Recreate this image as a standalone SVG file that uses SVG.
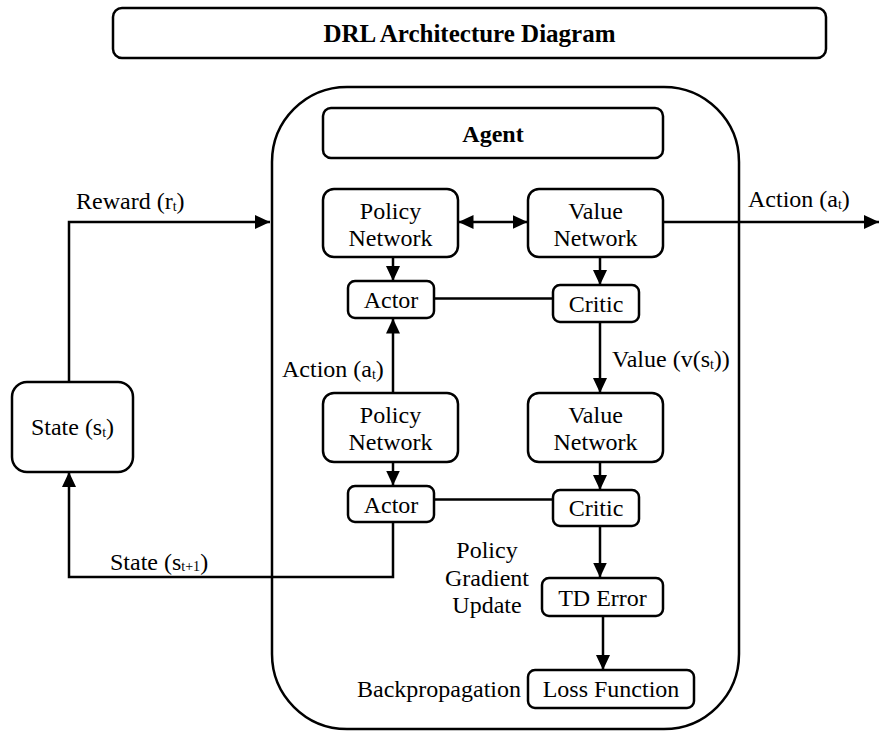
<svg xmlns="http://www.w3.org/2000/svg" width="879" height="731" viewBox="0 0 879 731">
<defs>
<marker id="ah" viewBox="0 0 15 14" refX="15" refY="7" markerWidth="15" markerHeight="14" markerUnits="userSpaceOnUse" orient="auto-start-reverse">
<path d="M0,0 L15,7 L0,14 z" fill="#000"/>
</marker>
</defs>
<rect width="879" height="731" fill="#fff"/>

<g id="title">
<rect x="113" y="8" width="713" height="50" rx="9" fill="#fff" stroke="#000" stroke-width="2.5"/>
<text x="469.5" y="42" text-anchor="middle" font-weight="bold" font-family="Liberation Serif" font-size="25">DRL Architecture Diagram</text>
</g>

<g id="agent">
<rect x="272" y="87" width="467" height="642" rx="75" fill="#fff" stroke="#000" stroke-width="2.5"/>
</g>

<g id="agent-header">
<rect x="323" y="108" width="340" height="50" rx="8" fill="#fff" stroke="#000" stroke-width="2.5"/>
<text x="493" y="142" text-anchor="middle" font-weight="bold" font-family="Liberation Serif" font-size="24">Agent</text>
</g>

<g id="connectors" fill="none" stroke="#000" stroke-width="2.5">
<path d="M69,382 V222 H270" marker-end="url(#ah)"/>
<path d="M458.5,222 H527.5" marker-start="url(#ah)" marker-end="url(#ah)"/>
<path d="M663,222 H879" marker-end="url(#ah)"/>
<path d="M393,257 V281" marker-end="url(#ah)"/>
<path d="M600,257 V285" marker-end="url(#ah)"/>
<path d="M434,298.5 H553"/>
<path d="M393,393 V318.5" marker-end="url(#ah)"/>
<path d="M600,322 V393" marker-end="url(#ah)"/>
<path d="M393,462 V485.5" marker-end="url(#ah)"/>
<path d="M600,462 V490" marker-end="url(#ah)"/>
<path d="M434,499.5 H553"/>
<path d="M393,522 V577 H69 V472" marker-end="url(#ah)"/>
<path d="M600,526 V577.5" marker-end="url(#ah)"/>
<path d="M603,616 V670" marker-end="url(#ah)"/>
</g>

<g id="labels">
<text x="76" y="209" font-family="Liberation Serif" font-size="24">Reward (r<tspan font-size="14" dy="2">t</tspan><tspan dy="-2">)</tspan></text>
<text x="748" y="207" font-family="Liberation Serif" font-size="24">Action (a<tspan font-size="14" dy="2">t</tspan><tspan dy="-2">)</tspan></text>
<text x="282" y="377" font-family="Liberation Serif" font-size="24">Action (a<tspan font-size="14" dy="2">t</tspan><tspan dy="-2">)</tspan></text>
<text x="612" y="367" font-family="Liberation Serif" font-size="24">Value (v(s<tspan font-size="14" dy="2">t</tspan><tspan dy="-2">))</tspan></text>
<text x="110" y="570" font-family="Liberation Serif" font-size="24">State (s<tspan font-size="14" dy="1">t+1</tspan><tspan dy="-1">)</tspan></text>
<text x="487" y="558" text-anchor="middle" font-family="Liberation Serif" font-size="24">Policy</text>
<text x="487" y="586" text-anchor="middle" font-family="Liberation Serif" font-size="24">Gradient</text>
<text x="487" y="613" text-anchor="middle" font-family="Liberation Serif" font-size="24">Update</text>
<text x="521" y="697" text-anchor="end" font-family="Liberation Serif" font-size="24">Backpropagation</text>
</g>

<g id="state">
<rect x="12" y="382" width="121" height="90" rx="15" fill="#fff" stroke="#000" stroke-width="2.5"/>
<text x="72.5" y="435" text-anchor="middle" font-family="Liberation Serif" font-size="24">State (s<tspan font-size="14" dy="2">t</tspan><tspan dy="-2">)</tspan></text>
</g>

<g id="policy-network-1">
<rect x="323" y="189" width="135" height="68" rx="11" fill="#fff" stroke="#000" stroke-width="2.5"/>
<text x="390.5" y="219" text-anchor="middle" font-family="Liberation Serif" font-size="24">Policy</text>
<text x="390.5" y="246" text-anchor="middle" font-family="Liberation Serif" font-size="24">Network</text>
</g>

<g id="value-network-1">
<rect x="528" y="189" width="135" height="68" rx="11" fill="#fff" stroke="#000" stroke-width="2.5"/>
<text x="595.5" y="219" text-anchor="middle" font-family="Liberation Serif" font-size="24">Value</text>
<text x="595.5" y="246" text-anchor="middle" font-family="Liberation Serif" font-size="24">Network</text>
</g>

<g id="actor-1">
<rect x="348" y="281" width="86" height="37" rx="7" fill="#fff" stroke="#000" stroke-width="2.5"/>
<text x="391" y="308" text-anchor="middle" font-family="Liberation Serif" font-size="24">Actor</text>
</g>

<g id="critic-1">
<rect x="553" y="285" width="86" height="37" rx="7" fill="#fff" stroke="#000" stroke-width="2.5"/>
<text x="596" y="312" text-anchor="middle" font-family="Liberation Serif" font-size="24">Critic</text>
</g>

<g id="policy-network-2">
<rect x="323" y="393" width="135" height="69" rx="11" fill="#fff" stroke="#000" stroke-width="2.5"/>
<text x="390.5" y="423" text-anchor="middle" font-family="Liberation Serif" font-size="24">Policy</text>
<text x="390.5" y="450" text-anchor="middle" font-family="Liberation Serif" font-size="24">Network</text>
</g>

<g id="value-network-2">
<rect x="528" y="393" width="135" height="69" rx="11" fill="#fff" stroke="#000" stroke-width="2.5"/>
<text x="595.5" y="423" text-anchor="middle" font-family="Liberation Serif" font-size="24">Value</text>
<text x="595.5" y="450" text-anchor="middle" font-family="Liberation Serif" font-size="24">Network</text>
</g>

<g id="actor-2">
<rect x="348" y="486" width="86" height="36" rx="7" fill="#fff" stroke="#000" stroke-width="2.5"/>
<text x="391" y="513" text-anchor="middle" font-family="Liberation Serif" font-size="24">Actor</text>
</g>

<g id="critic-2">
<rect x="553" y="490" width="86" height="36" rx="7" fill="#fff" stroke="#000" stroke-width="2.5"/>
<text x="596" y="516" text-anchor="middle" font-family="Liberation Serif" font-size="24">Critic</text>
</g>

<g id="td-error">
<rect x="542" y="578" width="121" height="38" rx="7" fill="#fff" stroke="#000" stroke-width="2.5"/>
<text x="602.5" y="606" text-anchor="middle" font-family="Liberation Serif" font-size="24">TD Error</text>
</g>

<g id="loss-function">
<rect x="528" y="670" width="166" height="38" rx="7" fill="#fff" stroke="#000" stroke-width="2.5"/>
<text x="611" y="697" text-anchor="middle" font-family="Liberation Serif" font-size="24">Loss Function</text>
</g>
</svg>
